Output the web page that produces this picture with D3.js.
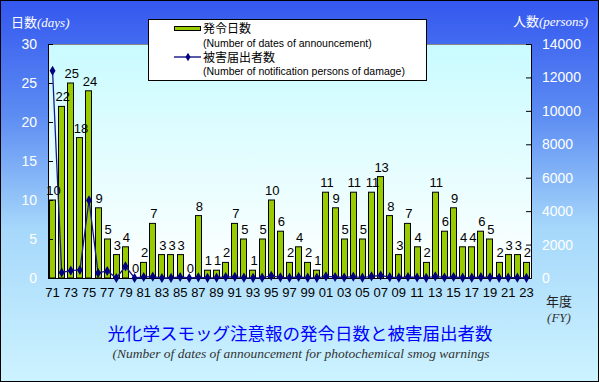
<!DOCTYPE html>
<html><head><meta charset="utf-8">
<script src="https://cdn.jsdelivr.net/npm/d3@7"></script>
<style>body{margin:0;padding:0;overflow:hidden}svg{display:block}</style>
</head><body>
<script>
const years = d3.range(1971, 2024);
const yearLabels = years.map(y => String(y % 100).padStart(2, "0"));
const days = [10,22,25,18,24,9,5,3,4,0, 2,7,3,3,3,0,8,1,1,2, 7,5,1,5,10,6,2,4,2,1, 11,9,5,11,5,11,13,8,3,7, 4,2,11,6,9,4,4,6,5,2, 3,3,2];
const persons = [12400,330,440,480,4650,300,420,0,700,0, 60,80,0,10,60,0,40,10,20,60, 70,20,10,20,130,40,20,60,20,10, 100,60,30,80,20,100,150,50,20,60, 30,10,100,30,60,20,20,50,40,10, 20,20,10];
const leftTicks = [0,5,10,15,20,25,30];
const rightTicks = [0,2000,4000,6000,8000,10000,12000,14000];

const W = 599, H = 382;
const M = {l:48, r:531, t:44, b:278};
const svg = d3.select("body").append("svg").attr("width", W).attr("height", H);
const defs = svg.append("defs");
const bg = defs.append("linearGradient").attr("id","bg").attr("x1",0).attr("y1",0).attr("x2",0).attr("y2",1);
bg.append("stop").attr("offset","0").attr("stop-color","#3457ef");
bg.append("stop").attr("offset","0.3").attr("stop-color","#5c8cf2");
bg.append("stop").attr("offset","0.6").attr("stop-color","#a6d8fb");
bg.append("stop").attr("offset","1").attr("stop-color","#cdf3ff");
const pg = defs.append("linearGradient").attr("id","pg").attr("x1",0).attr("y1",0).attr("x2",0).attr("y2",1);
pg.append("stop").attr("offset","0").attr("stop-color","#c9fbff");
pg.append("stop").attr("offset","1").attr("stop-color","#ffffff");

svg.append("rect").attr("x",0.5).attr("y",0.5).attr("width",W-1).attr("height",H-1)
  .attr("fill","url(#bg)").attr("stroke","#000");

svg.append("rect").attr("x",M.l).attr("y",M.t).attr("width",M.r-M.l).attr("height",M.b-M.t)
  .attr("fill","url(#pg)");

const x = d3.scaleBand().domain(years).range([M.l, M.r]).paddingInner(0.22).paddingOuter(0.11);
const yL = d3.scaleLinear().domain([0,30]).range([M.b, M.t]);
const yR = d3.scaleLinear().domain([0,14000]).range([M.b, M.t]);

svg.append("line").attr("x1",M.l).attr("x2",M.r).attr("y1",M.t+0.5).attr("y2",M.t+0.5).attr("stroke","#888");

svg.append("g").selectAll("rect").data(years).join("rect")
  .attr("x", d => Math.round(x(d))+0.5)
  .attr("y", (d,i) => yL(days[i]))
  .attr("width", Math.round(x.bandwidth())-1)
  .attr("height", (d,i) => M.b - yL(days[i]))
  .attr("fill","#99cc00").attr("stroke","#000").attr("stroke-width",1);

const fontS = "'Liberation Sans', Arial, sans-serif";
const gL = svg.append("g").attr("transform",`translate(${M.l},0)`)
  .call(d3.axisLeft(yL).tickValues(leftTicks).tickSize(-5).tickPadding(11));
gL.select(".domain").attr("stroke","#000");
gL.selectAll("text").attr("fill","#fff").attr("font-size",14).attr("font-family",fontS);
gL.selectAll(".tick line").attr("stroke","#000");

const gR = svg.append("g").attr("transform",`translate(${M.r},0)`)
  .call(d3.axisRight(yR).tickValues(rightTicks).tickFormat(d3.format("d")).tickSize(-5).tickPadding(11));
gR.select(".domain").attr("stroke","#000");
gR.selectAll("text").attr("fill","#fff").attr("font-size",14).attr("font-family",fontS);
gR.selectAll(".tick line").attr("stroke","#000");

const gB = svg.append("g").attr("transform",`translate(0,${M.b})`)
  .call(d3.axisBottom(x).tickValues(years.filter((d,i)=>i%2===0)).tickFormat(d => yearLabels[years.indexOf(d)]).tickSize(0).tickPadding(10));
gB.select(".domain").attr("stroke","#000");
gB.selectAll("text").attr("fill","#000").attr("font-size",13).attr("font-family",fontS);

svg.append("g").selectAll("text").data(years).join("text")
  .attr("x", d => x(d) + x.bandwidth()/2 + 1)
  .attr("y", (d,i) => yL(days[i]) - 5)
  .attr("text-anchor","middle")
  .attr("font-size",13).attr("font-family",fontS).attr("fill","#000")
  .text((d,i) => days[i]);

const line = d3.line().x(d => x(d) + x.bandwidth()/2).y((d,i) => yR(persons[i]));
svg.append("path").datum(years).attr("d", line).attr("fill","none").attr("stroke","#1a1a90").attr("stroke-width",1.3);
svg.append("g").selectAll("path").data(years).join("path")
  .attr("transform",(d,i)=>`translate(${x(d)+x.bandwidth()/2},${yR(persons[i])})`)
  .attr("d", d3.symbol(d3.symbolDiamond, 30)())
  .attr("fill","#000080");

const lg = svg.append("g");
lg.append("rect").attr("x",148.5).attr("y",19.5).attr("width",278).attr("height",61).attr("fill","#fff").attr("stroke","#000");
lg.append("rect").attr("x",174.5).attr("y",26.5).attr("width",26).attr("height",4).attr("fill","#99cc00").attr("stroke","#000");
lg.append("line").attr("x1",174).attr("x2",201).attr("y1",57).attr("y2",57).attr("stroke","#000080").attr("stroke-width",1.3);
lg.append("path").attr("transform","translate(188,57)").attr("d", d3.symbol(d3.symbolDiamond, 22)()).attr("fill","#000080");
const jf = "'Noto Sans CJK JP', sans-serif";
lg.append("text").attr("x",203).attr("y",33).attr("font-size",12).attr("font-family",jf).text("発令日数");
lg.append("text").attr("x",203).attr("y",47).attr("font-size",10.5).attr("font-family",fontS).text("(Number of dates of announcement)");
lg.append("text").attr("x",203).attr("y",62).attr("font-size",12).attr("font-family",jf).text("被害届出者数");
lg.append("text").attr("x",203).attr("y",75).attr("font-size",10.5).attr("font-family",fontS).text("(Number of notification persons of damage)");

const t1 = svg.append("text").attr("x",11).attr("y",27).attr("fill","#fff").attr("font-size",13);
t1.append("tspan").attr("font-family",jf).text("日数");
t1.append("tspan").attr("font-family","'Liberation Serif', serif").attr("font-style","italic").attr("font-size",13).text("(days)");
const t2 = svg.append("text").attr("x",588).attr("y",26).attr("text-anchor","end").attr("fill","#fff").attr("font-size",13);
t2.append("tspan").attr("font-family",jf).text("人数");
t2.append("tspan").attr("font-family","'Liberation Serif', serif").attr("font-style","italic").attr("font-size",13).text("(persons)");
svg.append("text").attr("x",559).attr("y",306).attr("text-anchor","middle").attr("font-size",13).attr("font-family",jf).attr("fill","#222").text("年度");
svg.append("text").attr("x",559).attr("y",322).attr("text-anchor","middle").attr("font-size",13).attr("font-family","'Liberation Serif', serif").attr("font-style","italic").attr("fill","#333").text("(FY)");

svg.append("text").attr("x",300).attr("y",340).attr("text-anchor","middle").attr("font-size",17.5).attr("font-family",jf).attr("fill","#0000ff").text("光化学スモッグ注意報の発令日数と被害届出者数");
svg.append("text").attr("x",301).attr("y",358).attr("text-anchor","middle").attr("font-size",13.5).attr("font-family","'Liberation Serif', serif").attr("font-style","italic").attr("fill","#333").text("(Number of dates of announcement for photochemical smog warnings");
</script>
</body></html>
